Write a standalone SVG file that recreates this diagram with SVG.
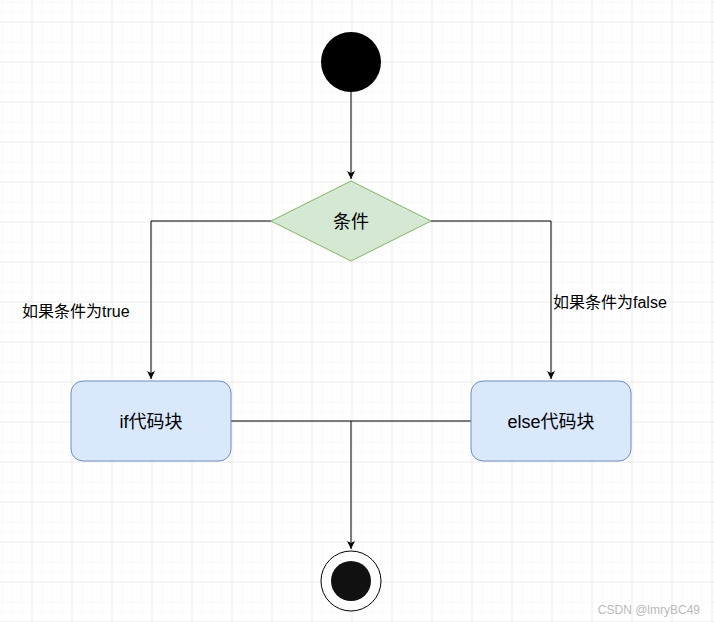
<svg xmlns="http://www.w3.org/2000/svg" width="715" height="622" viewBox="0 0 715 622">
<defs>
<pattern id="minor" x="1.5" y="1.5" width="10" height="10" patternUnits="userSpaceOnUse"><path d="M0 0H10M0 0V10" stroke="#f3f3f3" stroke-width="1" fill="none"/></pattern>
<pattern id="major" x="31.5" y="21.5" width="40" height="40" patternUnits="userSpaceOnUse"><path d="M0 0H40M0 0V40" stroke="#e2e2e2" stroke-width="1" fill="none"/></pattern>
<marker id="arr" markerWidth="10" markerHeight="10" refX="9" refY="5" orient="auto" markerUnits="userSpaceOnUse"><path d="M1 1L9 5L1 9L3 5Z" fill="#000"/></marker>
</defs>
<style>
.t{font-family:"Liberation Sans","Noto Sans CJK SC",sans-serif;fill:#000}
.c{fill:none;stroke:#000;stroke-width:1}
</style>
<rect width="715" height="622" fill="#fff"/>
<rect width="715" height="622" fill="url(#minor)"/>
<rect width="715" height="622" fill="url(#major)"/>
<g id="connectors">
<path class="c" d="M351 92V179" marker-end="url(#arr)"/>
<path class="c" d="M271 221H151V379" marker-end="url(#arr)"/>
<path class="c" d="M431 221H551V379" marker-end="url(#arr)"/>
<path class="c" d="M231 421H471"/>
<path class="c" d="M351 421V549" marker-end="url(#arr)"/>
<text class="t" x="22" y="317" font-size="16">如果条件为true</text>
<text class="t" x="553" y="308" font-size="16">如果条件为false</text>
</g>
<g id="start"><circle cx="351" cy="62" r="30" fill="#000"/></g>
<g id="cond"><path d="M351 181L431 221L351 261L271 221Z" fill="#d5e8d4" stroke="#82b366"/><text class="t" x="351" y="228" font-size="18" text-anchor="middle">条件</text></g>
<g id="ifblock"><rect x="71" y="381" width="160" height="80" rx="12" fill="#dae8fc" stroke="#6c8ebf"/><text class="t" x="151" y="428" font-size="18" text-anchor="middle">if代码块</text></g>
<g id="elseblock"><rect x="471" y="381" width="160" height="80" rx="12" fill="#dae8fc" stroke="#6c8ebf"/><text class="t" x="551" y="428" font-size="18" text-anchor="middle">else代码块</text></g>
<g id="end"><circle cx="351" cy="581" r="30" fill="#fff" stroke="#000"/><circle cx="351" cy="581" r="20" fill="#111"/></g>
<text class="t" x="700" y="614" font-size="12" text-anchor="end" style="fill:#bbb">CSDN @lmryBC49</text>
</svg>
